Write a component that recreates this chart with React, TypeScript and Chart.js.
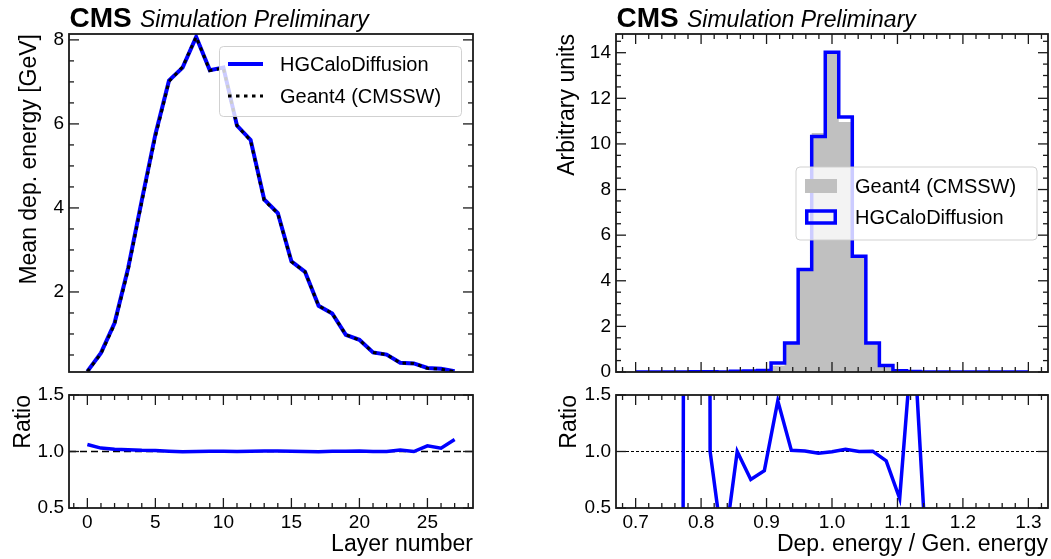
import React, { useEffect, useRef } from "react";
import { Chart, registerables } from "chart.js";

Chart.register(...registerables);

const FONT = "'Liberation Sans', Arial, Helvetica, sans-serif";
Chart.defaults.font.family = FONT;
Chart.defaults.color = "#000";

// ---------------- Left panel: mean deposited energy per layer ----------------
const layers = [0, 1, 2, 3, 4, 5, 6, 7, 8, 9, 10, 11, 12, 13, 14, 15, 16, 17, 18, 19, 20, 21, 22, 23, 24, 25, 26, 27];
const meanDiffusion = [0.11, 0.55, 1.26, 2.57, 4.18, 5.75, 7.03, 7.34, 8.07, 7.28, 7.34, 5.96, 5.62, 4.2, 3.88, 2.73, 2.48, 1.67, 1.49, 0.98, 0.86, 0.56, 0.51, 0.315, 0.3, 0.19, 0.17, 0.112];
const meanGeant = [0.104, 0.534, 1.235, 2.53, 4.14, 5.7, 7.01, 7.355, 8.07, 7.27, 7.33, 5.96, 5.6, 4.18, 3.87, 2.72, 2.48, 1.67, 1.49, 0.98, 0.857, 0.56, 0.51, 0.31, 0.3, 0.181, 0.165, 0.101];
const layerRatio = [1.062, 1.03, 1.02, 1.015, 1.01, 1.008, 1.003, 0.998, 1.0, 1.002, 1.002, 1.0, 1.003, 1.004, 1.004, 1.002, 1.0, 0.998, 1.002, 1.002, 1.005, 1.0, 1.0, 1.014, 1.0, 1.05, 1.03, 1.106];

const layerTicks = [0, 5, 10, 15, 20, 25];
const layerTickLabels = ["0", "5", "10", "15", "20", "25"];
const meanTicks = [2, 4, 6, 8];
const meanTickLabels = ["2", "4", "6", "8"];
const ratioTicks = [0.5, 1.0, 1.5];
const ratioTickLabels = ["0.5", "1.0", "1.5"];

// ---------------- Right panel: energy response ----------------
const binEdges = [0.7, 0.7207, 0.7414, 0.7621, 0.7828, 0.8034, 0.8241, 0.8448, 0.8655, 0.8862, 0.9069, 0.9276, 0.9483, 0.969, 0.9897, 1.0103, 1.031, 1.0517, 1.0724, 1.0931, 1.1138, 1.1345, 1.1552, 1.1759, 1.1966, 1.2172, 1.2379, 1.2586, 1.2793, 1.3];
const binCenters = [0.7103, 0.731, 0.7517, 0.7724, 0.7931, 0.8138, 0.8345, 0.8552, 0.8759, 0.8966, 0.9172, 0.9379, 0.9586, 0.9793, 1.0, 1.0207, 1.0414, 1.0621, 1.0828, 1.1034, 1.1241, 1.1448, 1.1655, 1.1862, 1.2069, 1.2276, 1.2483, 1.269, 1.2897];
const histGeant = [0, 0, 0, 0.01, 0.0002, 0.01, 0.02, 0.03, 0.06, 0.08, 0.27, 1.26, 4.47, 10.48, 14.06, 10.96, 5.07, 1.27, 0.32, 0.086, 0.01, 0.005, 0, 0, 0, 0, 0, 0, 0];
const histDiffusion = [0, 0, 0, 0, 0.012, 0.01, 0.002, 0.03, 0.045, 0.066, 0.39, 1.27, 4.49, 10.33, 14.02, 11.18, 5.07, 1.27, 0.29, 0.05, 0.021, 0, 0, 0, 0, 0, 0, 0, 0];
const responseRatio = [null, null, null, 0.0, 60, 1.0, 0.1, 1.0, 0.752, 0.83, 1.448, 1.01, 1.005, 0.985, 0.997, 1.02, 1.0, 1.003, 0.917, 0.584, 2.1, 0.0, null, null, null, null, null, null, null];

const respTicks = [0.7, 0.8, 0.9, 1.0, 1.1, 1.2, 1.3];
const respTickLabels = ["0.7", "0.8", "0.9", "1.0", "1.1", "1.2", "1.3"];
const auTicks = [0, 2, 4, 6, 8, 10, 12, 14];
const auTickLabels = ["0", "2", "4", "6", "8", "10", "12", "14"];

const BLUE = "#0000ff";
const GREY = "#c0c0c0";
const W = 1051;
const H = 559;

// ---------------- decoration plugin (frame, inside ticks, legend, label) ----------------
function minorValues(min: number, max: number, step: number, majors: number[]) {
  const out: number[] = [];
  const start = Math.ceil(min / step - 1e-9);
  const end = Math.floor(max / step + 1e-9);
  for (let k = start; k <= end; k++) {
    const v = +(k * step).toFixed(6);
    if (!majors.some((m) => Math.abs(m - v) < step * 1e-3)) out.push(v);
  }
  return out;
}

function drawTicks(ctx: CanvasRenderingContext2D, chart: any, axisId: string, cfg: any) {
  if (!cfg) return;
  const scale = chart.scales[axisId];
  const a = chart.chartArea;
  const majors: number[] = cfg.major;
  const minors = cfg.minorStep ? minorValues(scale.min, scale.max, cfg.minorStep, majors) : [];
  const draw = (v: number, len: number) => {
    const p = scale.getPixelForValue(v);
    for (const side of cfg.sides) {
      ctx.beginPath();
      if (side === "bottom") { ctx.moveTo(p, a.bottom); ctx.lineTo(p, a.bottom - len); }
      if (side === "top") { ctx.moveTo(p, a.top); ctx.lineTo(p, a.top + len); }
      if (side === "left") { ctx.moveTo(a.left, p); ctx.lineTo(a.left + len, p); }
      if (side === "right") { ctx.moveTo(a.right, p); ctx.lineTo(a.right - len, p); }
      ctx.stroke();
    }
  };
  majors.forEach((v) => { if (v >= scale.min - 1e-9 && v <= scale.max + 1e-9) draw(v, 10); });
  minors.forEach((v) => draw(v, 5));
}

function roundRectPath(ctx: CanvasRenderingContext2D, x: number, y: number, w: number, h: number, r: number) {
  ctx.beginPath();
  ctx.moveTo(x + r, y);
  ctx.arcTo(x + w, y, x + w, y + h, r);
  ctx.arcTo(x + w, y + h, x, y + h, r);
  ctx.arcTo(x, y + h, x, y, r);
  ctx.arcTo(x, y, x + w, y, r);
  ctx.closePath();
}

function drawLegend(ctx: CanvasRenderingContext2D, L: any) {
  ctx.save();
  roundRectPath(ctx, L.box.x, L.box.y, L.box.w, L.box.h, 4);
  ctx.fillStyle = "rgba(255,255,255,0.8)";
  ctx.fill();
  ctx.strokeStyle = "rgba(204,204,204,0.9)";
  ctx.lineWidth = 1;
  ctx.stroke();
  for (const it of L.items) {
    ctx.save();
    if (it.type === "line") {
      ctx.strokeStyle = it.color;
      ctx.lineWidth = it.width;
      ctx.setLineDash(it.dash || []);
      ctx.beginPath();
      ctx.moveTo(L.sx0, it.cy);
      ctx.lineTo(L.sx1, it.cy);
      ctx.stroke();
    } else if (it.type === "fill") {
      ctx.fillStyle = it.color;
      ctx.fillRect(L.sx0, it.cy - 7, L.sx1 - L.sx0, 14);
    } else if (it.type === "outline") {
      ctx.strokeStyle = it.color;
      ctx.lineWidth = 3.5;
      ctx.strokeRect(L.sx0 + 1.75, it.cy - 6, L.sx1 - L.sx0 - 3.5, 12);
    }
    ctx.restore();
    ctx.fillStyle = "#000";
    ctx.font = `20px ${FONT}`;
    ctx.textBaseline = "middle";
    ctx.textAlign = "left";
    ctx.fillText(it.label, L.tx, it.cy + 1);
  }
  ctx.restore();
}

const decor = {
  id: "decor",
  beforeDatasetsDraw(chart: any, _args: any, opts: any) {
    if (!opts.refLine) return;
    const { ctx, chartArea: a } = chart;
    const y = chart.scales.y.getPixelForValue(opts.refLine.value);
    ctx.save();
    ctx.strokeStyle = "#000";
    ctx.lineWidth = opts.refLine.width;
    ctx.setLineDash(opts.refLine.dash);
    ctx.beginPath();
    ctx.moveTo(a.left, y);
    ctx.lineTo(a.right, y);
    ctx.stroke();
    ctx.restore();
  },
  afterDatasetsDraw(chart: any, _args: any, opts: any) {
    const { ctx, chartArea: a } = chart;
    if (opts.legend) drawLegend(ctx, opts.legend);
    ctx.save();
    ctx.strokeStyle = "#1a1a1a";
    ctx.lineWidth = 1.3;
    drawTicks(ctx, chart, "x", opts.xTicks);
    drawTicks(ctx, chart, "y", opts.yTicks);
    ctx.lineWidth = 1.8;
    ctx.strokeRect(a.left, a.top, a.right - a.left, a.bottom - a.top);
    ctx.restore();
    if (opts.cms) {
      ctx.save();
      ctx.fillStyle = "#000";
      ctx.textBaseline = "alphabetic";
      ctx.textAlign = "left";
      ctx.font = `bold 28px ${FONT}`;
      ctx.fillText("CMS", a.left + 0.5, 26.5);
      ctx.font = `italic 23px ${FONT}`;
      ctx.fillText("Simulation Preliminary", a.left + 71, 26.5);
      ctx.restore();
    }
  },
};

// ---------------- config builder ----------------
function panel(o: any) {
  const padLeft = o.area.left - o.yWidth;
  const padBottom = H - o.area.bottom - (o.xHeight || 0);
  const tickFont = { size: 19, family: FONT };
  const titleFont = { size: 23, family: FONT };
  return {
    type: "line",
    data: { datasets: o.datasets },
    options: {
      responsive: false,
      animation: false,
      events: [],
      layout: { padding: { left: padLeft, right: W - o.area.right, top: o.area.top, bottom: padBottom } },
      plugins: { legend: { display: false }, tooltip: { enabled: false }, decor: o.decor },
      scales: {
        x: {
          type: "linear",
          min: o.xMin,
          max: o.xMax,
          display: !!o.xHeight,
          afterFit: (s: any) => { s.height = o.xHeight || 0; },
          afterBuildTicks: (s: any) => { s.ticks = o.xTicks.map((v: number) => ({ value: v })); },
          grid: { display: false, drawTicks: false },
          border: { display: false },
          ticks: {
            callback: (_v: any, i: number) => o.xLabels[i],
            font: tickFont,
            color: "#000",
            padding: 3,
            maxRotation: 0,
            autoSkip: false,
          },
          title: {
            display: !!o.xTitle,
            text: o.xTitle || "",
            align: "end",
            font: titleFont,
            color: "#000",
            padding: { top: 0, bottom: 0.5 },
          },
        },
        y: {
          type: "linear",
          min: o.yMin,
          max: o.yMax,
          afterFit: (s: any) => { s.width = o.yWidth; },
          afterBuildTicks: (s: any) => { s.ticks = o.yTicks.map((v: number) => ({ value: v })); },
          grid: { display: false, drawTicks: false },
          border: { display: false },
          ticks: {
            callback: (_v: any, i: number) => o.yLabels[i],
            font: tickFont,
            color: "#000",
            padding: 5,
            autoSkip: false,
          },
          title: {
            display: true,
            text: o.yTitle,
            align: "end",
            font: titleFont,
            color: "#000",
            padding: { top: o.yTitlePad, bottom: 0 },
          },
        },
      },
    },
    plugins: [decor],
  };
}

const stepData = (vals: number[]) =>
  binEdges.map((e, k) => ({ x: e, y: vals[Math.min(k, vals.length - 1)] }));

function buildConfigs(): any[] {
  const leftTop = panel({
    area: { left: 69, top: 34, right: 473, bottom: 372 },
    yWidth: 69,
    xHeight: 0,
    xMin: -1.35,
    xMax: 28.35,
    yMin: 0.095,
    yMax: 8.14,
    xTicks: layerTicks,
    xLabels: layerTickLabels,
    yTicks: meanTicks,
    yLabels: meanTickLabels,
    yTitle: "Mean dep. energy [GeV]",
    yTitlePad: 16,
    datasets: [
      {
        label: "Geant4 (CMSSW)",
        data: layers.map((x, i) => ({ x, y: meanGeant[i] })),
        borderColor: "#000",
        borderWidth: 3,
        borderDash: [3.5, 4.5],
        pointRadius: 0,
        fill: false,
        order: 0,
      },
      {
        label: "HGCaloDiffusion",
        data: layers.map((x, i) => ({ x, y: meanDiffusion[i] })),
        borderColor: BLUE,
        borderWidth: 4,
        pointRadius: 0,
        fill: false,
        order: 1,
      },
    ],
    decor: {
      yTicks: { major: meanTicks, minorStep: 0.5, sides: ["left", "right"] },
      cms: true,
      legend: {
        box: { x: 219.5, y: 46.5, w: 242, h: 70 },
        sx0: 228,
        sx1: 263,
        tx: 280,
        items: [
          { type: "line", color: BLUE, width: 4, label: "HGCaloDiffusion", cy: 64 },
          { type: "line", color: "#000", width: 3, dash: [3.5, 4.5], label: "Geant4 (CMSSW)", cy: 96 },
        ],
      },
    },
  });

  const leftRatio = panel({
    area: { left: 69, top: 395, right: 473, bottom: 508 },
    yWidth: 69,
    xHeight: 51,
    xMin: -1.35,
    xMax: 28.35,
    yMin: 0.5,
    yMax: 1.5,
    xTicks: layerTicks,
    xLabels: layerTickLabels,
    yTicks: ratioTicks,
    yLabels: ratioTickLabels,
    xTitle: "Layer number",
    yTitle: "Ratio",
    yTitlePad: 9.5,
    datasets: [
      {
        label: "ratio",
        data: layers.map((x, i) => ({ x, y: layerRatio[i] })),
        borderColor: BLUE,
        borderWidth: 3.5,
        pointRadius: 0,
        fill: false,
      },
    ],
    decor: {
      xTicks: { major: layerTicks, minorStep: 1, sides: ["top", "bottom"] },
      yTicks: { major: ratioTicks, sides: ["left", "right"] },
      refLine: { value: 1, width: 1.5, dash: [7, 4] },
    },
  });

  const rightTop = panel({
    area: { left: 616, top: 34, right: 1048, bottom: 372 },
    yWidth: 76,
    xHeight: 0,
    xMin: 0.67,
    xMax: 1.33,
    yMin: 0,
    yMax: 14.82,
    xTicks: respTicks,
    xLabels: respTickLabels,
    yTicks: auTicks,
    yLabels: auTickLabels,
    yTitle: "Arbitrary units",
    yTitlePad: 13.5,
    datasets: [
      {
        label: "Geant4 (CMSSW)",
        data: stepData(histGeant),
        stepped: "before",
        borderColor: "rgba(0,0,0,0)",
        borderWidth: 0.01,
        backgroundColor: GREY,
        fill: "origin",
        pointRadius: 0,
        order: 1,
      },
      {
        label: "HGCaloDiffusion",
        data: stepData(histDiffusion),
        stepped: "before",
        borderColor: BLUE,
        borderWidth: 3.5,
        fill: false,
        pointRadius: 0,
        order: 0,
      },
    ],
    decor: {
      xTicks: { major: respTicks, minorStep: 0.02, sides: ["top", "bottom"] },
      yTicks: { major: auTicks, minorStep: 0.5, sides: ["left", "right"] },
      cms: true,
      legend: {
        box: { x: 796, y: 167, w: 241, h: 73 },
        sx0: 805,
        sx1: 837,
        tx: 855,
        items: [
          { type: "fill", color: GREY, label: "Geant4 (CMSSW)", cy: 186 },
          { type: "outline", color: BLUE, label: "HGCaloDiffusion", cy: 217 },
        ],
      },
    },
  });

  const rightRatio = panel({
    area: { left: 616, top: 395, right: 1048, bottom: 508 },
    yWidth: 76,
    xHeight: 51,
    xMin: 0.67,
    xMax: 1.33,
    yMin: 0.5,
    yMax: 1.5,
    xTicks: respTicks,
    xLabels: respTickLabels,
    yTicks: ratioTicks,
    yLabels: ratioTickLabels,
    xTitle: "Dep. energy / Gen. energy",
    yTitle: "Ratio",
    yTitlePad: 15.5,
    datasets: [
      {
        label: "ratio",
        data: binCenters.map((x, i) => ({ x, y: responseRatio[i] })),
        borderColor: BLUE,
        borderWidth: 3.5,
        pointRadius: 0,
        fill: false,
        spanGaps: false,
      },
    ],
    decor: {
      xTicks: { major: respTicks, minorStep: 0.02, sides: ["top", "bottom"] },
      yTicks: { major: ratioTicks, sides: ["left", "right"] },
      refLine: { value: 1, width: 1, dash: [3, 2] },
    },
  });

  return [leftTop, leftRatio, rightTop, rightRatio];
}

export default function App() {
  const r0 = useRef<HTMLCanvasElement>(null);
  const r1 = useRef<HTMLCanvasElement>(null);
  const r2 = useRef<HTMLCanvasElement>(null);
  const r3 = useRef<HTMLCanvasElement>(null);
  const refs = [r0, r1, r2, r3];

  useEffect(() => {
    document.body.style.margin = "0";
    const cfgs = buildConfigs();
    const charts = cfgs.map((cfg, i) => new Chart(refs[i].current as HTMLCanvasElement, cfg));
    return () => charts.forEach((c) => c.destroy());
  }, []);

  return (
    <div style={{ position: "fixed", left: 0, top: 0, width: W, height: H, background: "#fff" }}>
      {refs.map((r, i) => (
        <canvas
          key={i}
          ref={r}
          width={W}
          height={H}
          style={{ position: "absolute", left: 0, top: 0, width: W, height: H }}
        />
      ))}
    </div>
  );
}
